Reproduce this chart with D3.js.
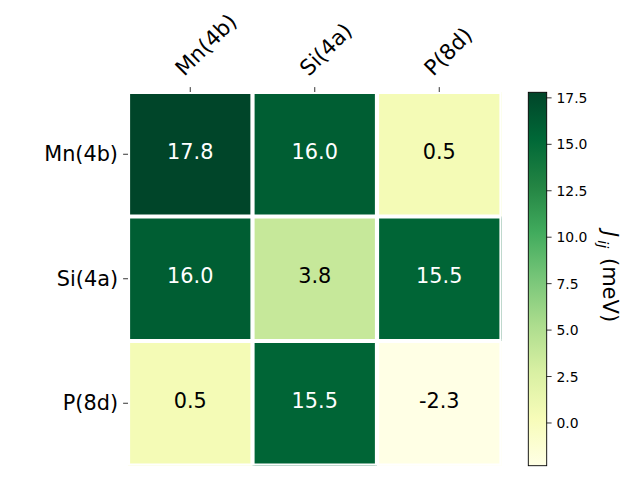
<!DOCTYPE html>
<html>
<head>
<meta charset="utf-8">
<script src="https://cdn.jsdelivr.net/npm/d3@7"></script>
<style>
  body { margin: 0; background: #fff; }
  svg { display: block; font-family: "DejaVu Sans", sans-serif; }
</style>
</head>
<body>
<script>
// data
var rowLabels = ["Mn(4b)", "Si(4a)", "P(8d)"],
    colLabels = ["Mn(4b)", "Si(4a)", "P(8d)"],
    rowMn = [17.8, 16.0, 0.5],
    rowSi = [16.0, 3.8, 15.5],
    rowP = [0.5, 15.5, -2.3],
    cbarTicks = [0.0, 2.5, 5.0, 7.5, 10.0, 12.5, 15.0, 17.5];

var matrix = [rowMn, rowSi, rowP];

// YlGn (colorbrewer 9 class, as in matplotlib)
var ylgn = ["#ffffe5", "#f7fcb9", "#d9f0a3", "#addd8e", "#78c679",
            "#41ab5d", "#238443", "#006837", "#004529"];

var svgWidth = 640,
    svgHeight = 480,
    axLeft = 128, axRight = 501.5,
    axTop = 92, axBottom = 465.5,
    cbLeft = 528.3, cbRight = 546.7,
    cbTop = 92.3, cbBottom = 465.7;

var allVals = d3.merge(matrix),
    vmin = d3.min(allVals),
    vmax = d3.max(allVals);

var norm = d3.scaleLinear().domain([vmin, vmax]).range([0, 1]);
var cmap = d3.scaleLinear()
    .domain(d3.range(ylgn.length).map(function(i) { return i / (ylgn.length - 1); }))
    .range(ylgn)
    .interpolate(d3.interpolateRgb);
function colorOf(v) { return cmap(norm(v)); }

var x = d3.scaleBand().domain(colLabels).range([axLeft, axRight]);
var y = d3.scaleBand().domain(rowLabels).range([axTop, axBottom]);

var svg = d3.select("body").append("svg")
    .attr("width", svgWidth)
    .attr("height", svgHeight);

svg.append("defs").append("clipPath").attr("id", "ax-clip")
    .append("rect")
        .attr("x", axLeft).attr("y", axTop)
        .attr("width", axRight - axLeft).attr("height", axBottom - axTop);

var cells = [];
matrix.forEach(function(row, i) {
    row.forEach(function(v, j) {
        cells.push({ r: rowLabels[i], c: colLabels[j], v: v });
    });
});

svg.append("g").selectAll("rect")
    .data(cells)
    .enter()
        .append("rect")
            .attr("x", function(d) { return x(d.c); })
            .attr("y", function(d) { return y(d.r); })
            .attr("width", x.bandwidth())
            .attr("height", y.bandwidth())
            .style("fill", function(d) { return colorOf(d.v); });

// white grid between cells
var grid = svg.append("g").attr("clip-path", "url(#ax-clip)");
var xEdges = colLabels.map(function(c) { return x(c); }).concat([axRight]),
    yEdges = rowLabels.map(function(r) { return y(r); }).concat([axBottom]);

grid.selectAll("line.v").data(xEdges).enter().append("line")
    .attr("x1", function(d) { return d; }).attr("x2", function(d) { return d; })
    .attr("y1", axTop).attr("y2", axBottom)
    .style("stroke", "#fff").style("stroke-width", 4.2);

grid.selectAll("line.h").data(yEdges).enter().append("line")
    .attr("y1", function(d) { return d; }).attr("y2", function(d) { return d; })
    .attr("x1", axLeft).attr("x2", axRight)
    .style("stroke", "#fff").style("stroke-width", 4.2);

// cell values (bbox centred like matplotlib, so digits sit a bit high)
var mid = (vmin + vmax) / 2;
svg.append("g").selectAll("text")
    .data(cells)
    .enter()
        .append("text")
            .attr("x", function(d) { return x(d.c) + x.bandwidth() / 2; })
            .attr("y", function(d) { return y(d.r) + y.bandwidth() / 2 - 2.5; })
            .attr("text-anchor", "middle")
            .attr("dominant-baseline", "central")
            .style("font-size", "20.8px")
            .style("fill", function(d) { return d.v > mid ? "#fff" : "#000"; })
            .text(function(d) { return d.v.toFixed(1); });

// left axis
var yTicks = svg.append("g");
yTicks.selectAll("line").data(rowLabels).enter().append("line")
    .attr("x1", axLeft - 4.9).attr("x2", axLeft)
    .attr("y1", function(d) { return y(d) + y.bandwidth() / 2; })
    .attr("y2", function(d) { return y(d) + y.bandwidth() / 2; })
    .style("stroke", "#000").style("stroke-width", 0.8);
yTicks.selectAll("text").data(rowLabels).enter().append("text")
    .attr("x", axLeft - 10)
    .attr("y", function(d) { return y(d) + y.bandwidth() / 2; })
    .attr("text-anchor", "end")
    .attr("dominant-baseline", "central")
    .style("font-size", "20.8px")
    .text(function(d) { return d; });

// top axis, labels rotated 45
var xTicks = svg.append("g");
xTicks.selectAll("line").data(colLabels).enter().append("line")
    .attr("x1", function(d) { return x(d) + x.bandwidth() / 2; })
    .attr("x2", function(d) { return x(d) + x.bandwidth() / 2; })
    .attr("y1", axTop - 4.9).attr("y2", axTop)
    .style("stroke", "#000").style("stroke-width", 0.8);
xTicks.selectAll("text").data(colLabels).enter().append("text")
    .attr("transform", function(d) {
        var cx = x(d) + x.bandwidth() / 2 - 6;
        return "translate(" + cx + ",77) rotate(-45)";
    })
    .attr("text-anchor", "start")
    .style("font-size", "21.5px")
    .text(function(d) { return d; });

// colorbar
var cb = d3.scaleLinear().domain([vmin, vmax]).range([cbBottom, cbTop]);
var grad = svg.select("defs").append("linearGradient")
    .attr("id", "cb-grad")
    .attr("x1", 0).attr("y1", 1).attr("x2", 0).attr("y2", 0);
grad.selectAll("stop").data(ylgn).enter().append("stop")
    .attr("offset", function(d, i) { return i / (ylgn.length - 1); })
    .attr("stop-color", function(d) { return d; });

svg.append("rect")
    .attr("x", cbLeft).attr("y", cbTop)
    .attr("width", cbRight - cbLeft).attr("height", cbBottom - cbTop)
    .style("fill", "url(#cb-grad)")
    .style("stroke", "#000").style("stroke-width", 0.9);

var cbAxis = svg.append("g");
cbAxis.selectAll("line").data(cbarTicks).enter().append("line")
    .attr("x1", cbRight).attr("x2", cbRight + 4.9)
    .attr("y1", function(d) { return cb(d); }).attr("y2", function(d) { return cb(d); })
    .style("stroke", "#000").style("stroke-width", 0.8);
cbAxis.selectAll("text").data(cbarTicks).enter().append("text")
    .attr("x", cbRight + 9.8)
    .attr("y", function(d) { return cb(d); })
    .attr("dominant-baseline", "central")
    .style("font-size", "13.9px")
    .text(function(d) { return d.toFixed(1); });

// colorbar label, reads top to bottom
var cbLabel = svg.append("text")
    .attr("transform", "translate(602.5,231) rotate(90)")
    .attr("text-anchor", "start")
    .style("font-size", "21px");
cbLabel.append("tspan").style("font-style", "italic").text("J");
cbLabel.append("tspan").style("font-style", "italic").style("font-size", "14.5px")
    .attr("dx", 3).attr("dy", 4.5).text("ij");
cbLabel.append("tspan").attr("dx", 3).attr("dy", -4.5).text(" (meV)");
</script>
</body>
</html>
